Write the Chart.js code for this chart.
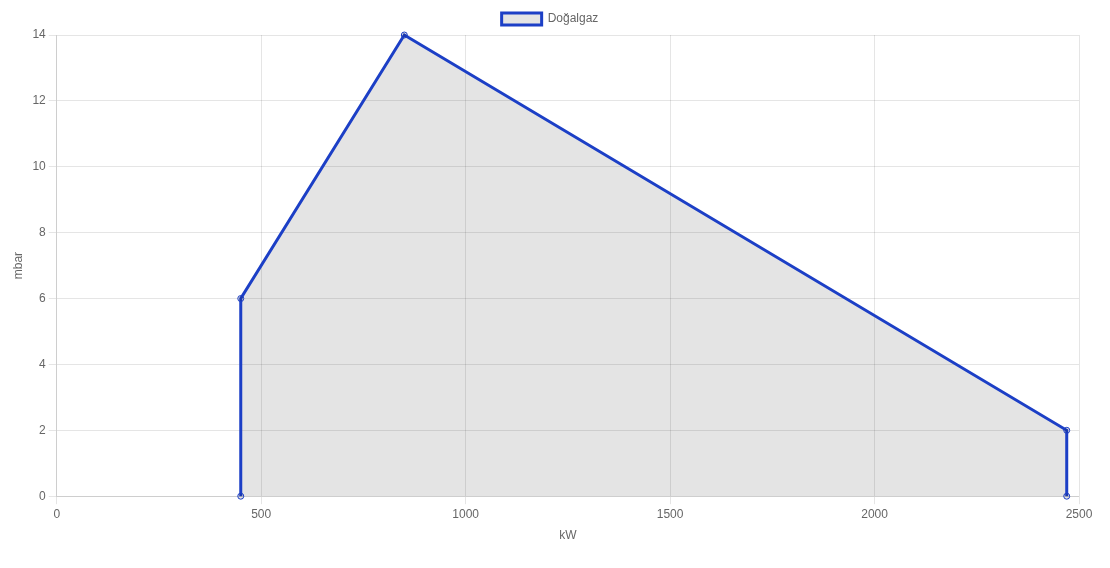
<!DOCTYPE html>
<html>
<head>
<meta charset="utf-8">
<script src="https://cdn.jsdelivr.net/npm/chart.js@4/dist/chart.umd.min.js"></script>
<style>
  html, body { margin: 0; padding: 0; background: #fff; }
  #wrap { position: relative; width: 1110px; height: 568px; }
</style>
</head>
<body>
<div id="wrap"><canvas id="c"></canvas></div>
<script>
// Doğalgaz working range (kW vs mbar)
const seriesName = 'Doğalgaz';
const powerKW = [450, 450, 850, 2470, 2470];
const pressureMbar = [0, 6, 14, 2, 0];

// nudge the legend a bit right so it sits centred like the original
const legendShift = {
  id: 'legendShift',
  afterLayout(chart) {
    if (chart.legend) {
      chart.legend.left += 7;
      chart.legend.right += 7;
    }
  },
};

const ctx = document.getElementById('c').getContext('2d');
new Chart(ctx, {
  type: 'line',
  data: {
    datasets: [{
      label: seriesName,
      data: powerKW.map((x, i) => ({ x: x, y: pressureMbar[i] })),
      borderColor: '#1c3fc6',
      backgroundColor: 'rgba(0, 0, 0, 0.105)',
      pointBackgroundColor: 'rgba(0, 0, 0, 0.105)',
      borderWidth: 3,
      pointRadius: 3,
      pointBorderWidth: 1,
      fill: true,
      tension: 0,
      clip: false,
    }],
  },
  options: {
    responsive: true,
    maintainAspectRatio: false,
    animation: false,
    layout: { padding: { left: 7, right: 31, top: 3, bottom: 21 } },
    scales: {
      x: {
        type: 'linear',
        min: 0,
        max: 2500,
        ticks: { stepSize: 500, color: '#666', callback: (v) => String(v) },
        title: { display: true, text: 'kW', color: '#666' },
      },
      y: {
        min: 0,
        max: 14,
        ticks: { stepSize: 2, color: '#666' },
        title: { display: true, text: 'mbar', color: '#666' },
      },
    },
    plugins: {
      legend: { display: true, labels: { color: '#666' } },
      tooltip: { enabled: false },
    },
  },
  plugins: [legendShift],
});
</script>
</body>
</html>
